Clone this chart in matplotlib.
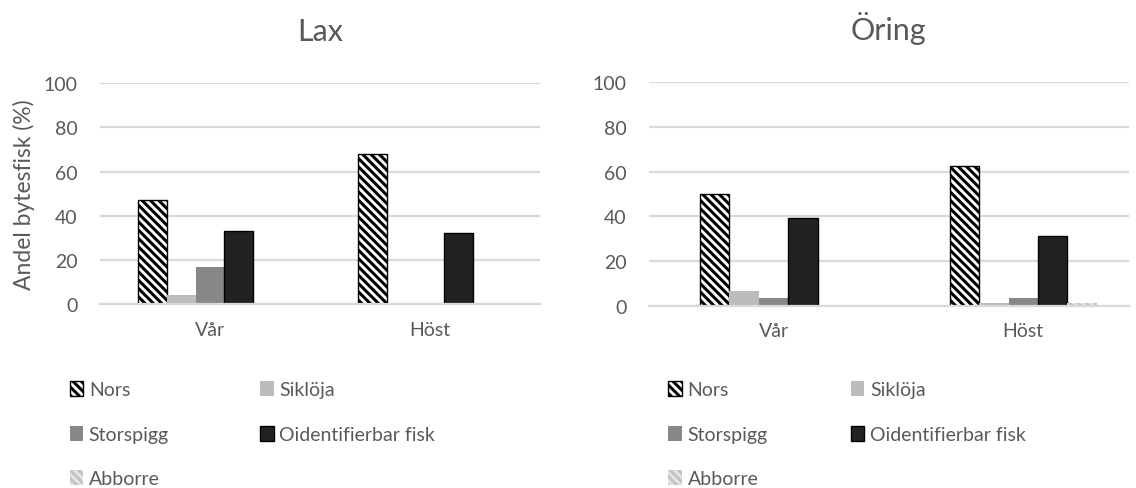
import numpy as np
import matplotlib.pyplot as plt
from matplotlib.patches import Patch

plt.rcParams['font.family'] = ['Lato', 'DejaVu Sans']
plt.rcParams['hatch.linewidth'] = 2.2

seasons = ['Vår', 'Höst']
species = ['Nors', 'Siklöja', 'Storspigg', 'Oidentifierbar fisk', 'Abborre']

# andel bytesfisk (%) per art, [Vår, Höst]
lax = {
    'Nors': [47, 68],
    'Siklöja': [4, 0.7],
    'Storspigg': [17, 0],
    'Oidentifierbar fisk': [33, 32],
    'Abborre': [0, 0],
}
oring = {
    'Nors': [50, 62.5],
    'Siklöja': [6.5, 1],
    'Storspigg': [3.5, 3.5],
    'Oidentifierbar fisk': [39, 31],
    'Abborre': [0, 1],
}

txt = '#595959'
grid = '#d9d9d9'
styles = {
    'Nors': dict(facecolor='white', edgecolor='black', hatch='\\\\\\\\', linewidth=1),
    'Siklöja': dict(facecolor='#bcbcbc', edgecolor='#bcbcbc', linewidth=0),
    'Storspigg': dict(facecolor='#888888', edgecolor='#888888', linewidth=0),
    'Oidentifierbar fisk': dict(facecolor='#222222', edgecolor='black', linewidth=1),
    'Abborre': dict(facecolor='#e4e4e4', edgecolor='#c4c4c4', hatch='\\\\\\\\', linewidth=0),
}

fig = plt.figure(figsize=(11.36, 4.89), dpi=100)


def panel(rect, data, title, width, xmax, ylabel=None):
    ax = fig.add_axes(rect)
    x = np.arange(len(seasons))
    n = len(species)
    for i, sp in enumerate(species):
        off = (i - (n - 1) / 2) * width
        ax.bar(x + off, data[sp], width, **styles[sp])
    ax.set_xlim(-0.5, xmax)
    ax.set_ylim(0, 100)
    ax.set_yticks(range(0, 101, 20))
    ax.set_xticks(x)
    ax.set_xticklabels(seasons)
    ax.set_axisbelow(True)
    ax.yaxis.grid(True, color=grid, linewidth=1.6)
    for s in ['top', 'right', 'left']:
        ax.spines[s].set_visible(False)
    ax.spines['bottom'].set_color(grid)
    ax.spines['bottom'].set_linewidth(1.6)
    ax.tick_params(axis='y', length=0, pad=16, labelsize=14, labelcolor=txt)
    ax.tick_params(axis='x', length=0, pad=12, labelsize=14, labelcolor=txt)
    ax.set_title(title, fontsize=22, color=txt, pad=31)
    if ylabel:
        ax.set_ylabel(ylabel, fontsize=16.5, color=txt, labelpad=6)
    return ax


ax1 = panel([0.088, 0.376, 0.387, 0.452], lax, 'Lax', 0.13, 1.5,
            ylabel='Andel bytesfisk (%)')
ax2 = panel([0.571, 0.373, 0.423, 0.457], oring, 'Öring', 0.118, 1.424)

# column-wise order so the legend reads row by row
order = ['Nors', 'Storspigg', 'Abborre', 'Siklöja', 'Oidentifierbar fisk']
for ax, xpos, colsp in [(ax1, 0.046, 4.7), (ax2, 0.573, 4.3)]:
    handles = [Patch(**styles[sp]) for sp in order]
    fig.legend(handles, order, loc='upper left', bbox_to_anchor=(xpos, 0.254),
               ncol=2, frameon=False, fontsize=14, labelcolor=txt,
               handlelength=0.68, handleheight=0.8, handletextpad=0.3,
               labelspacing=1.4, columnspacing=colsp,
               bbox_transform=fig.transFigure)

fig.savefig('out.png', dpi=100)
